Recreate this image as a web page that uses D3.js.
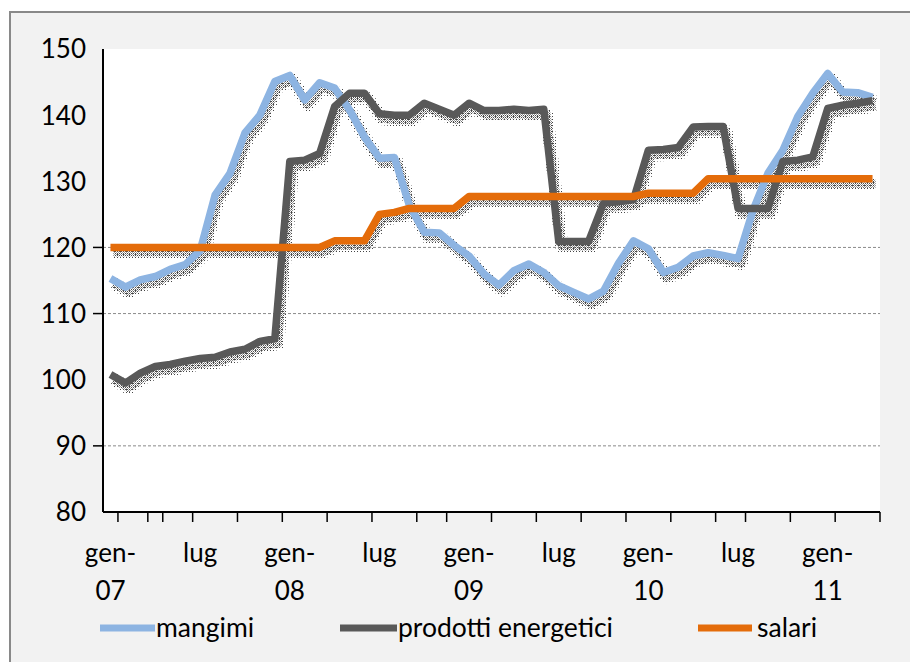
<!DOCTYPE html>
<html>
<head>
<meta charset="utf-8">
<script src="https://cdn.jsdelivr.net/npm/d3@7"></script>
<style>
  html, body { margin: 0; padding: 0; background: #fff; }
  svg { display: block; }
  text { font-family: Lato, "Open Sans", sans-serif; fill: #000; }
</style>
</head>
<body>
<svg id="chart" width="910" height="662"></svg>
<script>
// mesi da gen-07 ad apr-11
const mesi = [
  "gen-07","feb-07","mar-07","apr-07","mag-07","giu-07","lug-07","ago-07","set-07","ott-07","nov-07","dic-07",
  "gen-08","feb-08","mar-08","apr-08","mag-08","giu-08","lug-08","ago-08","set-08","ott-08","nov-08","dic-08",
  "gen-09","feb-09","mar-09","apr-09","mag-09","giu-09","lug-09","ago-09","set-09","ott-09","nov-09","dic-09",
  "gen-10","feb-10","mar-10","apr-10","mag-10","giu-10","lug-10","ago-10","set-10","ott-10","nov-10","dic-10",
  "gen-11","feb-11","mar-11","apr-11"
];

const mangimi = [
  115.3, 114.0, 115.1, 115.6, 116.7, 117.4, 119.5, 127.9, 131.2, 137.3, 140.0, 145.1,
  146.0, 142.3, 144.9, 144.1, 140.8, 136.7, 133.5, 133.6, 126.4, 122.3, 122.2, 120.3,
  118.7, 116.0, 114.3, 116.5, 117.5, 116.2, 114.2, 113.2, 112.2, 113.4, 117.6, 121.0,
  119.8, 116.2, 117.0, 118.7, 119.2, 118.8, 118.3, 125.6, 131.2, 134.7, 139.8, 143.3,
  146.3, 143.5, 143.4, 142.7
];

const energetici = [
  100.8, 99.5, 101.0, 102.0, 102.3, 102.8, 103.2, 103.4, 104.2, 104.6, 105.8, 106.2,
  133.0, 133.2, 134.2, 141.3, 143.3, 143.3, 140.2, 140.0, 140.0, 141.8, 140.9, 140.0,
  141.8, 140.7, 140.7, 140.9, 140.7, 140.9, 120.9, 120.9, 120.9, 126.7, 126.9, 127.2,
  134.7, 134.8, 135.1, 138.2, 138.3, 138.3, 125.9, 125.9, 125.9, 133.0, 133.2, 133.7,
  141.0, 141.5, 141.8, 142.2
];

const salari = [
  120.0, 120.0, 120.0, 120.0, 120.0, 120.0, 120.0, 120.0, 120.0, 120.0, 120.0, 120.0,
  120.0, 120.0, 120.0, 121.0, 121.0, 121.0, 125.0, 125.3, 125.9, 125.9, 125.9, 125.9,
  127.7, 127.7, 127.7, 127.7, 127.7, 127.7, 127.7, 127.7, 127.7, 127.7, 127.7, 127.7,
  128.2, 128.2, 128.2, 128.2, 130.4, 130.4, 130.4, 130.4, 130.4, 130.4, 130.4, 130.4,
  130.4, 130.4, 130.4, 130.4
];

const yTicks = [80, 90, 100, 110, 120, 130, 140, 150];
const gridValues = [90, 110, 120];
const xTickBounds = [1, 3, 4, 6, 9, 12, 15, 18, 21, 23, 26, 29, 32, 35, 38, 41, 43, 46, 49, 52];
const xLabelIdx = [0, 6, 12, 18, 24, 30, 36, 42, 48];
const xLabels = [["gen-","07"], ["lug"], ["gen-","08"], ["lug"], ["gen-","09"], ["lug"], ["gen-","10"], ["lug"], ["gen-","11"]];

const series = [
  { name: "mangimi", values: mangimi, color: "#8db4e2" },
  { name: "prodotti energetici", values: energetici, color: "#595959" },
  { name: "salari", values: salari, color: "#e46c0a" }
];

const svg = d3.select("#chart");
const plot = { left: 103, right: 880, top: 49, bottom: 512 };

const x = d3.scaleLinear().domain([-0.5, mesi.length - 0.5]).range([plot.left, plot.right]);
const y = d3.scaleLinear().domain([80, 150]).range([plot.bottom, plot.top]);

// pattern per l'ombra puntinata
const defs = svg.append("defs");
const pDense = defs.append("pattern").attr("id", "dotsDense")
  .attr("width", 2).attr("height", 2).attr("patternUnits", "userSpaceOnUse");
pDense.append("rect").attr("width", 1).attr("height", 1).attr("fill", "#4a4a4a");
pDense.append("rect").attr("x", 1).attr("y", 1).attr("width", 1).attr("height", 1).attr("fill", "#9a9a9a");
const pSparse = defs.append("pattern").attr("id", "dotsSparse")
  .attr("width", 3).attr("height", 3).attr("patternUnits", "userSpaceOnUse");
pSparse.append("rect").attr("width", 1).attr("height", 1).attr("fill", "#444");

// cornice
svg.append("rect")
  .attr("x", 10).attr("y", 12).attr("width", 920).attr("height", 700)
  .attr("fill", "#f2f2f2").attr("stroke", "#898989").attr("stroke-width", 2);

svg.append("rect")
  .attr("x", plot.left).attr("y", plot.top)
  .attr("width", plot.right - plot.left).attr("height", plot.bottom - plot.top)
  .attr("fill", "#fff");

// griglia
svg.append("g").selectAll("line")
  .data(gridValues)
  .enter().append("line")
  .attr("x1", plot.left).attr("x2", plot.right)
  .attr("y1", d => y(d)).attr("y2", d => y(d))
  .attr("stroke", "#8a8a8a").attr("stroke-width", 1)
  .attr("stroke-dasharray", "3,2");

// ombre
const line = d3.line()
  .x((d, i) => x(i))
  .y(d => y(d));

const shadows = svg.append("g").attr("transform", "translate(3,5)");
series.forEach(s => {
  shadows.append("path")
    .attr("d", line(s.values))
    .attr("fill", "none")
    .attr("stroke", "url(#dotsSparse)")
    .attr("stroke-width", 13)
    .attr("stroke-linejoin", "round");
  shadows.append("path")
    .attr("d", line(s.values))
    .attr("fill", "none")
    .attr("stroke", "url(#dotsDense)")
    .attr("stroke-width", 8)
    .attr("stroke-linejoin", "round");
});

// serie
series.forEach(s => {
  svg.append("path")
    .attr("d", line(s.values))
    .attr("fill", "none")
    .attr("stroke", s.color)
    .attr("stroke-width", 7.5)
    .attr("stroke-linejoin", "round");
});

// assi
svg.append("line")
  .attr("x1", plot.left).attr("x2", plot.left)
  .attr("y1", plot.top).attr("y2", plot.bottom)
  .attr("stroke", "#000").attr("stroke-width", 2);
svg.append("line")
  .attr("x1", plot.left).attr("x2", plot.right)
  .attr("y1", plot.bottom).attr("y2", plot.bottom)
  .attr("stroke", "#000").attr("stroke-width", 2);

svg.append("g").selectAll("line")
  .data(gridValues)
  .enter().append("line")
  .attr("x1", plot.left - 10).attr("x2", plot.left)
  .attr("y1", d => y(d)).attr("y2", d => y(d))
  .attr("stroke", "#000").attr("stroke-width", 1.5);

svg.append("g").selectAll("text")
  .data(yTicks)
  .enter().append("text")
  .attr("x", 86).attr("y", d => y(d))
  .attr("dy", "0.36em")
  .attr("text-anchor", "end")
  .style("font-size", "26px")
  .text(d => d);

svg.append("g").selectAll("line")
  .data(xTickBounds)
  .enter().append("line")
  .attr("x1", d => x(d - 0.5)).attr("x2", d => x(d - 0.5))
  .attr("y1", plot.bottom).attr("y2", plot.bottom + 10)
  .attr("stroke", "#000").attr("stroke-width", 1.5);

const xl = svg.append("g").selectAll("text")
  .data(xLabelIdx)
  .enter().append("text")
  .attr("text-anchor", "middle")
  .style("font-size", "26px");
xl.each(function (d, k) {
  const t = d3.select(this);
  xLabels[k].forEach((lab, j) => {
    t.append("tspan").attr("x", x(d)).attr("y", 562 + j * 38).text(lab);
  });
});

// legenda
const legend = [
  { x1: 100, x2: 155, tx: 156 },
  { x1: 340, x2: 397, tx: 398 },
  { x1: 698, x2: 752, tx: 757 }
];
series.forEach((s, i) => {
  svg.append("line")
    .attr("x1", legend[i].x1).attr("x2", legend[i].x2)
    .attr("y1", 628).attr("y2", 628)
    .attr("stroke", s.color).attr("stroke-width", 7);
  svg.append("text")
    .attr("x", legend[i].tx).attr("y", 637)
    .style("font-size", "26.5px")
    .text(s.name);
});
</script>
</body>
</html>
